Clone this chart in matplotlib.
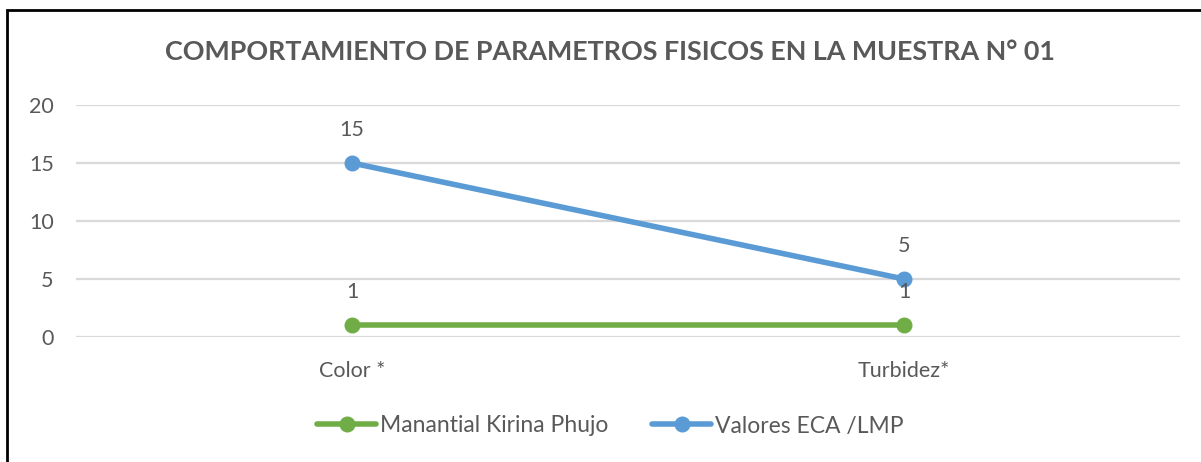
import matplotlib.pyplot as plt
from matplotlib.patches import Rectangle

categories = ['Color *', 'Turbidez*']
manantial = [1, 1]
eca_lmp = [15, 5]
series_names = ['Manantial Kirina Phujo', 'Valores ECA /LMP']
yticks = [0, 5, 10, 15, 20]

green = '#70AD47'
blue = '#5B9BD5'
txt = '#595959'

plt.rcParams['font.family'] = ['Lato', 'DejaVu Sans']

fig = plt.figure(figsize=(12.01, 4.62), dpi=100)
ax = fig.add_axes([76/1201, 125/462, 1104/1201, 232/462])

x = range(len(categories))
ax.plot(x, manantial, color=green, lw=4, marker='o', markersize=10.5,
        solid_capstyle='round', label=series_names[0], zorder=3)
ax.plot(x, eca_lmp, color=blue, lw=4, marker='o', markersize=10.5,
        solid_capstyle='round', label=series_names[1], zorder=3)

for xi, v in zip(x, manantial):
    ax.annotate(str(v), (xi, v), xytext=(0, 24), textcoords='offset points',
                ha='center', va='center', fontsize=15.5, color=txt)
for xi, v in zip(x, eca_lmp):
    ax.annotate(str(v), (xi, v), xytext=(0, 24), textcoords='offset points',
                ha='center', va='center', fontsize=15.5, color=txt)

ax.set_xlim(-0.5, 1.5)
ax.set_ylim(0, 20)
ax.set_yticks(yticks)
ax.set_xticks(list(x))
ax.set_xticklabels(categories)
ax.tick_params(axis='y', length=0, pad=16, labelsize=15.5, labelcolor=txt)
ax.tick_params(axis='x', length=0, pad=17, labelsize=15.5, labelcolor=txt)
ax.grid(axis='y', color='#D9D9D9', lw=1.6)
ax.set_axisbelow(True)
for s in ax.spines.values():
    s.set_visible(False)

fig.text(0.508, 1 - 52/462, 'COMPORTAMIENTO DE PARAMETROS FISICOS EN LA MUESTRA N° 01',
         ha='center', va='center', fontsize=19.4, fontweight='bold', color=txt)

leg = fig.legend(loc='center', bbox_to_anchor=(0.508, 1 - 426/462), ncol=2,
                 frameon=False, fontsize=16.5, handlelength=2.6, handletextpad=0.15,
                 columnspacing=1.9)
for t in leg.get_texts():
    t.set_color(txt)

fig.add_artist(Rectangle((7/1201, -0.1), 1.2, 1 - 10/462 + 0.1,
                         transform=fig.transFigure, fill=False,
                         edgecolor='black', lw=2))

fig.savefig('out.png', dpi=100)
